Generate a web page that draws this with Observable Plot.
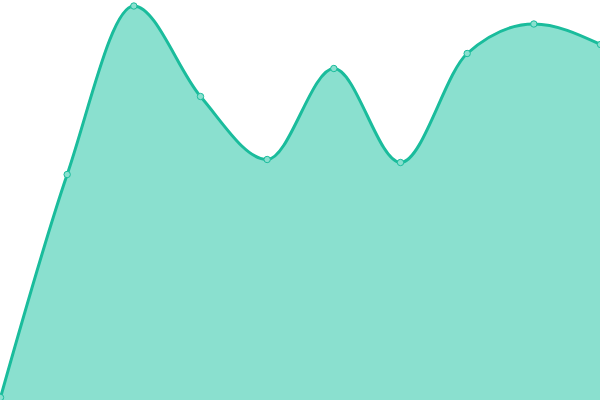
<!DOCTYPE html>
<html>
<head>
<meta charset="utf-8">
<script src="https://cdn.jsdelivr.net/npm/d3@7"></script>
<script src="https://cdn.jsdelivr.net/npm/@observablehq/plot@0.6"></script>
<style>
  html, body { margin: 0; padding: 0; background: #fff; }
  #chart svg { display: block; }
</style>
</head>
<body>
<div id="chart"></div>
<script>
const xs = [0, 1, 2, 3, 4, 5, 6, 7, 8, 9];
const values = [3, 226, 394.5, 304, 241, 332, 238, 347, 376.5, 356];

const data = xs.map((x, i) => ({x, y: values[i]}));
const lineColor = "#1abc9c";
const fillColor = "#8ae0cf";

const chart = Plot.plot({
  width: 600,
  height: 400,
  margin: 0,
  x: {domain: [0, 9], axis: null},
  y: {domain: [0, 400], axis: null},
  marks: [
    Plot.areaY(data, {x: "x", y: "y", curve: "monotone-x", fill: fillColor}),
    Plot.lineY(data, {x: "x", y: "y", curve: "monotone-x", stroke: lineColor, strokeWidth: 3}),
    Plot.dot(data, {x: "x", y: "y", r: 3.2, fill: fillColor, stroke: lineColor, strokeWidth: 1})
  ]
});
document.getElementById("chart").appendChild(chart);
</script>
</body>
</html>
